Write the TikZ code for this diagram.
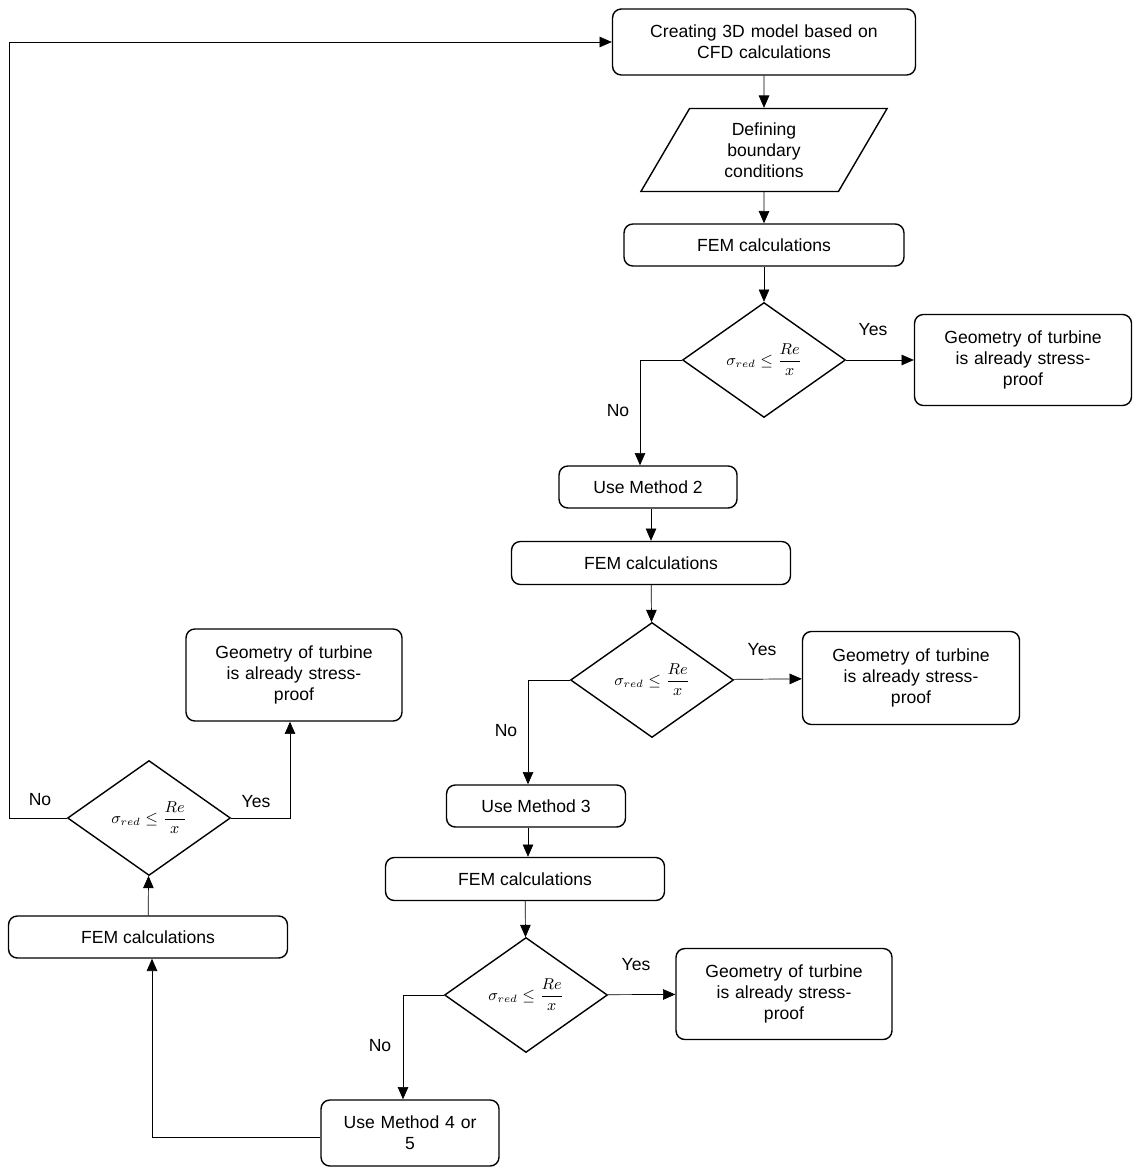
\documentclass[tikz,border=0pt]{standalone}
\usepackage{fontspec}
\setmainfont{Liberation Sans}
\usetikzlibrary{shapes.geometric,arrows.meta}
\newcommand{\stresstest}{$\displaystyle\sigma_{red}\leq\frac{Re}{x}$}
\begin{document}
\begin{tikzpicture}[x=0.02cm, y=-0.02cm, >={Triangle[length=7pt,width=6pt]},
  every node/.append style={font=\fontsize{10}{12}\selectfont, align=center},
  box/.style={draw, thick, rounded corners=5pt, inner sep=1pt},
  io/.style={draw, thick, trapezium, trapezium left angle=60, trapezium right angle=120, trapezium stretches=true, minimum width=4.96cm, minimum height=1.66cm, inner sep=1pt},
  check/.style={draw, thick, diamond, minimum width=3.26cm, minimum height=2.3cm, inner sep=0pt, font=\fontsize{9}{11}\selectfont},
  lbl/.style={font=\fontsize{10}{12}\selectfont}]
  \useasboundingbox (0,0) rectangle (1145,1175);

  \node[box, minimum width=6.06cm, minimum height=1.32cm, text width=5.6cm] (model) at (764,42) {Creating 3D model based on\\CFD calculations};
  \node[io, text width=2cm] (bound) at (764,150) {Defining\\boundary\\conditions};
  \node[box, minimum width=5.6cm, minimum height=0.84cm] (fem1) at (764,245) {FEM calculations};
  \node[check] (chk1) at (764,360) {\stresstest};
  \node[box, minimum width=4.34cm, minimum height=1.82cm, text width=4cm] (geo1) at (1023,360) {Geometry of turbine\\is already stress-\\proof};

  \node[box, minimum width=3.56cm, minimum height=0.84cm] (met2) at (648,487) {Use Method 2};
  \node[box, minimum width=5.58cm, minimum height=0.86cm] (fem2) at (651,563) {FEM calculations};
  \node[check] (chk2) at (652,680) {\stresstest};
  \node[box, minimum width=4.34cm, minimum height=1.86cm, text width=4cm] (geo2) at (911,678) {Geometry of turbine\\is already stress-\\proof};

  \node[box, minimum width=3.58cm, minimum height=0.84cm] (met3) at (536,806) {Use Method 3};
  \node[box, minimum width=5.58cm, minimum height=0.86cm] (fem3) at (525,879) {FEM calculations};
  \node[check] (chk3) at (526,995) {\stresstest};
  \node[box, minimum width=4.32cm, minimum height=1.82cm, text width=4cm] (geo3) at (784,994) {Geometry of turbine\\is already stress-\\proof};

  \node[box, minimum width=3.56cm, minimum height=1.32cm, text width=3.2cm] (met4) at (410,1133) {Use Method 4 or\\5};
  \node[box, minimum width=5.58cm, minimum height=0.84cm] (fem4) at (148,937) {FEM calculations};
  \node[check] (chk4) at (149,818) {\stresstest};
  \node[box, minimum width=4.32cm, minimum height=1.84cm, text width=4cm] (geo4) at (294,675) {Geometry of turbine\\is already stress-\\proof};

  \coordinate (c1) at (640,360);
  \coordinate (c2) at (528,680);
  \coordinate (c3) at (403,995);
  \coordinate (c4) at (152,1137);
  \coordinate (c5) at (290,818);
  \coordinate (c6) at (9,818);
  \coordinate (c7) at (9,42);

  \draw[->] (model) -- (bound);
  \draw[->] (bound) -- (fem1);
  \draw[->] (fem1) -- (chk1);
  \draw[->] (chk1) -- (geo1);
  \draw[->] (chk1.west) -- (c1) -- (c1 |- met2.north);
  \draw[->] (met2.south -| fem2) -- (fem2);
  \draw[->] (fem2) -- (chk2);
  \draw[->] (chk2) -- (geo2);
  \draw[->] (chk2.west) -- (c2) -- (c2 |- met3.north);
  \draw[->] (met3.south -| c2) -- (c2 |- fem3.north);
  \draw[->] (fem3) -- (chk3);
  \draw[->] (chk3) -- (geo3);
  \draw[->] (chk3.west) -- (c3) -- (c3 |- met4.north);
  \draw[->] (met4.west |- c4) -- (c4) -- (c4 |- fem4.south);
  \draw[->] (fem4) -- (chk4);
  \draw[->] (chk4.east) -- (c5) -- (c5 |- geo4.south);
  \draw[->] (chk4.west) -- (c6) -- (c7) -- (model.west);

  \node[lbl] (y1) at (873,330) {Yes};
  \node[lbl] (n1) at (618,411) {No};
  \node[lbl] (y2) at (762,650) {Yes};
  \node[lbl] (n2) at (506,731) {No};
  \node[lbl] (y3) at (636,965) {Yes};
  \node[lbl] (n3) at (380,1046) {No};
  \node[lbl] (n4) at (40,800) {No};
  \node[lbl] (y4) at (256,802) {Yes};
\end{tikzpicture}
\end{document}
